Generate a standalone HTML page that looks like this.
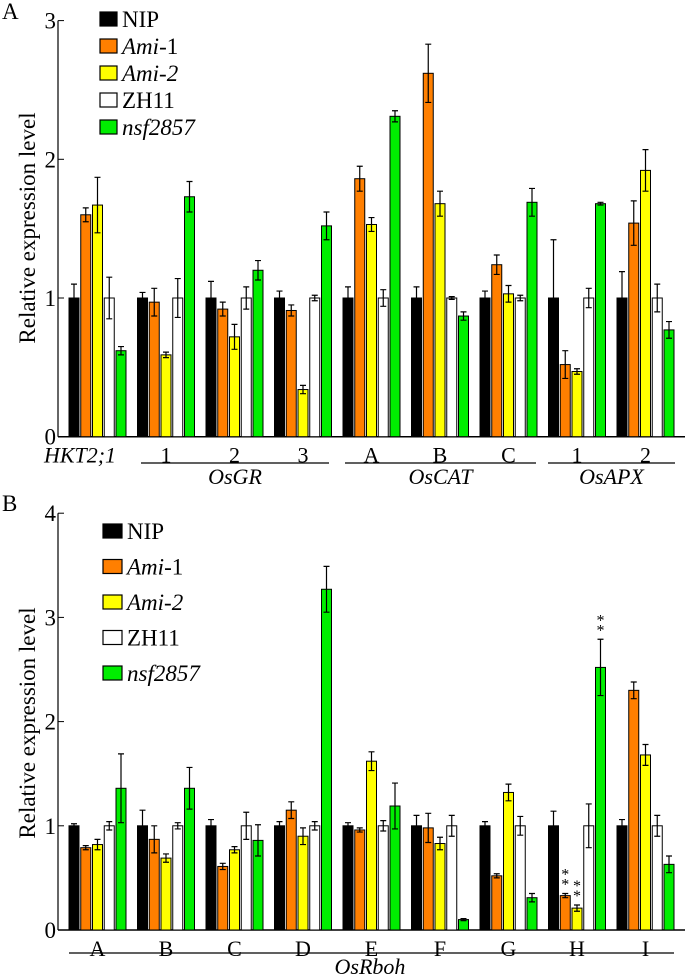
<!DOCTYPE html>
<html><head><meta charset="utf-8"><style>
body{margin:0;background:#fff;}
svg{display:block;}
svg text{font-family:"Liberation Serif","Times New Roman",serif;}
</style></head><body>
<svg id="chart" width="685" height="976" xmlns="http://www.w3.org/2000/svg" font-family="Liberation Serif, serif"></svg>
<script>
const seriesNames=["NIP","Ami-1","Ami-2","ZH11","nsf2857"];
const colors=["#000000","#ff7f00","#ffff00","#ffffff","#00ee00"];
const catsA=["HKT2;1","1","2","3","A","B","C","1","2"];
const valsA=[[1,1.6,1.67,1,0.62],[1,0.97,0.59,1,1.73],[1,0.92,0.72,1,1.2],[1,0.91,0.34,1,1.52],[1,1.86,1.53,1,2.31],[1,2.62,1.68,1,0.87],[1,1.24,1.03,1,1.69],[1,0.52,0.47,1,1.68],[1,1.54,1.92,1,0.77]];
const errsA=[[0.1,0.05,0.2,0.15,0.03],[0.04,0.1,0.02,0.14,0.11],[0.12,0.05,0.09,0.08,0.07],[0.05,0.04,0.03,0.02,0.1],[0.08,0.09,0.05,0.06,0.04],[0.08,0.21,0.09,0.01,0.03],[0.05,0.07,0.06,0.02,0.1],[0.42,0.1,0.02,0.07,0.01],[0.19,0.16,0.15,0.1,0.06]];
const ticksA=[0,1,2,3];
const catsB=["A","B","C","D","E","F","G","H","I"];
const valsB=[[1,0.79,0.82,1,1.36],[1,0.87,0.69,1,1.36],[1,0.61,0.77,1,0.86],[1,1.15,0.9,1,3.27],[1,0.96,1.62,1,1.19],[1,0.98,0.83,1,0.1],[1,0.52,1.32,1,0.31],[1,0.33,0.21,1,2.52],[1,2.3,1.68,1,0.63]];
const errsB=[[0.02,0.02,0.05,0.04,0.33],[0.15,0.13,0.04,0.03,0.2],[0.06,0.03,0.03,0.13,0.15],[0.04,0.08,0.08,0.04,0.22],[0.03,0.02,0.09,0.05,0.22],[0.1,0.14,0.06,0.1,0.01],[0.04,0.02,0.08,0.09,0.04],[0.14,0.02,0.03,0.21,0.27],[0.06,0.08,0.1,0.1,0.08]];
const ticksB=[0,1,2,3,4];

const svg=document.getElementById('chart');
const NS="http://www.w3.org/2000/svg";
const FF="Liberation Serif, serif";
function mk(tag,attrs,parent){const e=document.createElementNS(NS,tag);for(const k in attrs)e.setAttribute(k,attrs[k]);(parent||svg).appendChild(e);return e;}
function txt(s,attrs,parent){attrs['font-family']=FF;const e=mk('text',attrs,parent);e.textContent=s;return e;}

function panel(opt){
  const g=mk('g',{});
  
  
  const y=v=>opt.y0-v*opt.unit;
  const gx=i=>69+i*68.5;
  const bx=j=>j*11.75;
  const ax=mk('line',{x1:58,y1:opt.y0,x2:58,y2:y(opt.ticks[opt.ticks.length-1]),stroke:'#000','stroke-width':1.2},g);
  
  
  const xa=mk('line',{x1:58,y1:opt.y0,x2:685,y2:opt.y0,stroke:'#000','stroke-width':1.5},g);
  
  
  opt.ticks.forEach(t=>{
    mk('line',{x1:58,y1:y(t),x2:64,y2:y(t),stroke:'#000'},g);
    const tl=txt(String(t),{x:56,y:y(t)+8,'text-anchor':'end','font-size':23},g);
    
    
  });
  opt.vals.forEach((row,i)=>{
    row.forEach((v,j)=>{
      const x=gx(i)+bx(j);
      const r=mk('rect',{x:x,y:y(v),width:10,height:v*opt.unit,fill:colors[j],stroke:'#000','stroke-width':1},g);
      
      
      const e=opt.errs[i][j],cx=x+5;
      const eb=mk('path',{d:`M${cx},${y(v+e)}V${y(v-e)}M${cx-3},${y(v+e)}H${cx+3}M${cx-3},${y(v-e)}H${cx+3}`,stroke:'#000','stroke-width':1.2,fill:'none'},g);
      
      
    });
    const lbl=txt(opt.cats[i],{x:i===0&&opt.hkt?80:gx(i)+28.5,y:opt.y0+26,'text-anchor':'middle','font-size':22,'font-style':i===0&&opt.hkt?'italic':'normal'},g);
    
    
  });
  seriesNames.forEach((n,j)=>{
    const ly=opt.legY+j*opt.legStep;
    const sw=mk('rect',{x:opt.legX,y:ly-7,width:opt.legW,height:14,fill:colors[j],stroke:'#000','stroke-width':1.2},g);
    
    
    const t=mk('text',{x:opt.legX+opt.legW+5,y:ly+8,'font-size':23,'font-family':FF},g);
    
    
    if(n==='Ami-1'){t.innerHTML='<tspan font-style="italic">Ami</tspan>-1';}
    else if(n==='Ami-2'||n==='nsf2857'){t.innerHTML='<tspan font-style="italic">'+n+'</tspan>';}
    else t.textContent=n;
  });
  const yl=txt('Relative expression level',{x:0,y:0,'font-size':23,'text-anchor':'middle',transform:`translate(35,${opt.yLabY}) rotate(-90)`},g);
  
  
  return {g,y,gx,bx};
}

const A=panel({name:'panel-a',y0:436.7,unit:138.7,ticks:ticksA,vals:valsA,errs:errsA,cats:catsA,hkt:true,legX:100,legY:19,legStep:27,legW:17,yLabY:228});
const B=panel({name:'panel-b',y0:930,unit:104.2,ticks:ticksB,vals:valsB,errs:errsB,cats:catsB,hkt:false,legX:103,legY:531,legStep:35.5,legW:19,yLabY:723});

[[141,329,'OsGR'],[345,536,'OsCAT'],[548,675,'OsAPX']].forEach(([a,b,n])=>{
  const l=mk('line',{x1:a,y1:463,x2:b,y2:463,stroke:'#000','stroke-width':1.2},A.g);
  
  
  const t=txt(n,{x:(a+b)/2,y:484,'text-anchor':'middle','font-size':22,'font-style':'italic'},A.g);
  
  
});
const lb=mk('line',{x1:69,y1:953,x2:674,y2:953,stroke:'#000','stroke-width':1.2},B.g);


const tb=txt('OsRboh',{x:370,y:974,'text-anchor':'middle','font-size':22,'font-style':'italic'},B.g);



[[7,1],[7,2],[7,4]].forEach(([i,j])=>{
  const v=valsB[i][j]+errsB[i][j];
  const x=B.gx(i)+B.bx(j)+5;
  const s=mk('text',{x:x,y:B.y(v)-2,'text-anchor':'middle','font-size':16,'font-family':FF},B.g);
  
  
  s.innerHTML=`<tspan x="${x}" dy="-2">*</tspan><tspan x="${x}" dy="-10">*</tspan>`;
});

const pa=txt('A',{x:2,y:19,'font-size':23},A.g);


const pb=txt('B',{x:2,y:511,'font-size':23},B.g);


</script>
</body></html>
